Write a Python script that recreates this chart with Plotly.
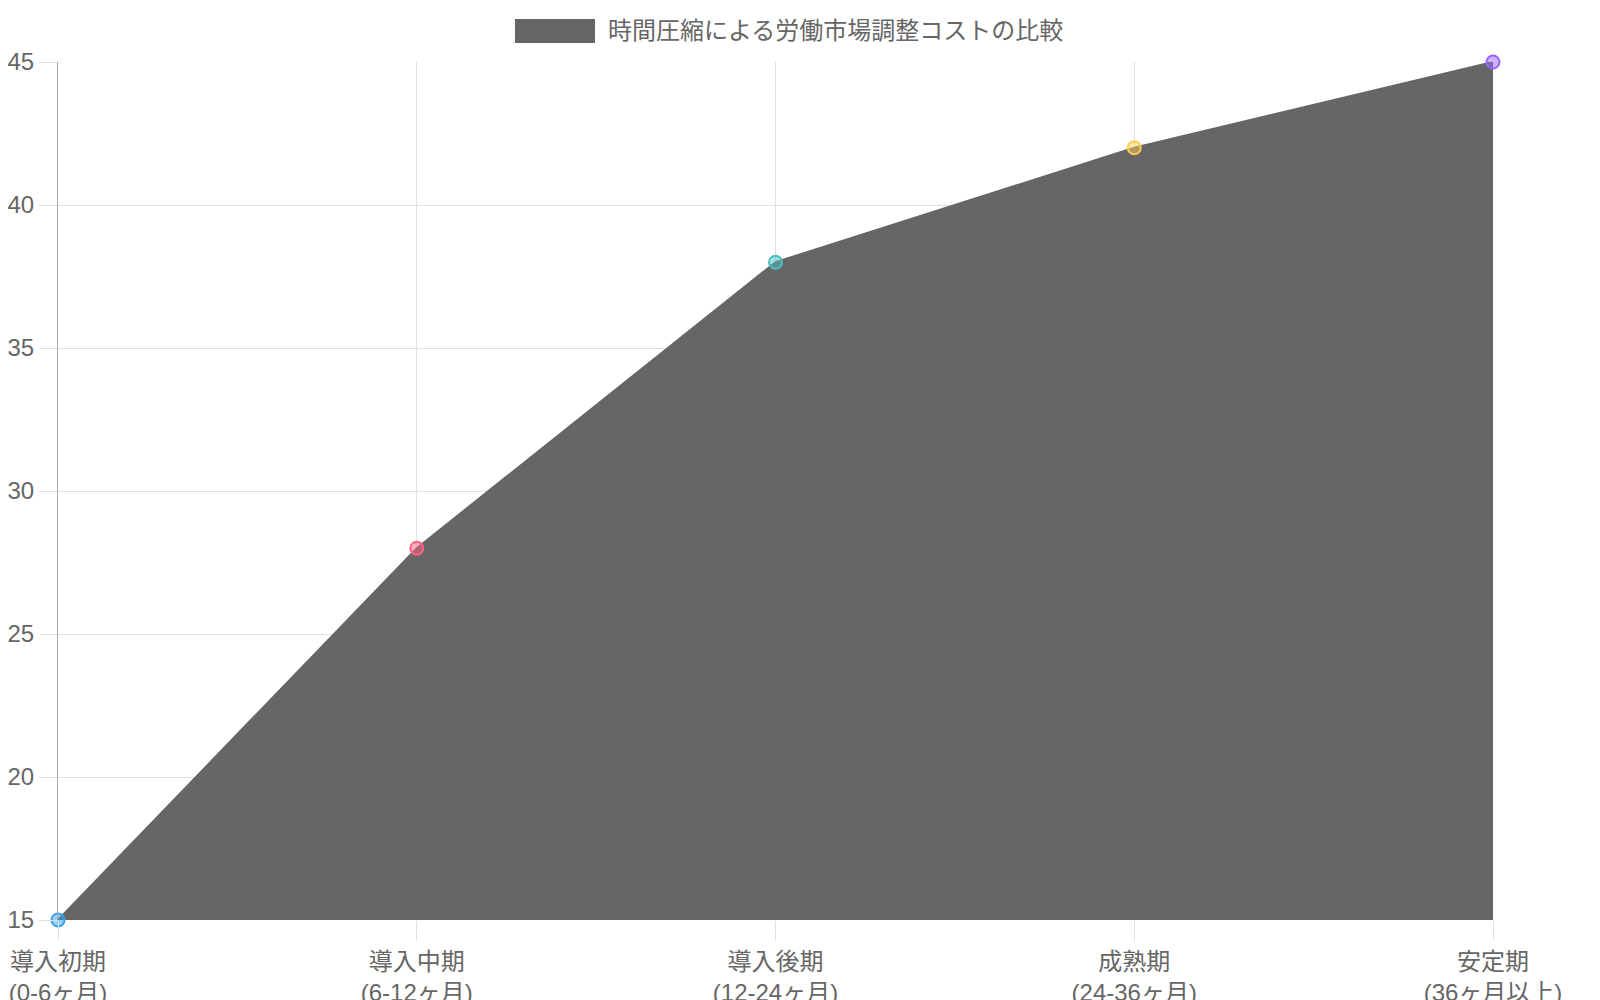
import plotly.graph_objects as go

# --- データ ---
stages = ["導入初期<br>(0-6ヶ月)", "導入中期<br>(6-12ヶ月)", "導入後期<br>(12-24ヶ月)",
          "成熟期<br>(24-36ヶ月)", "安定期<br>(36ヶ月以上)"]
cost_values = [15, 28, 38, 42, 45]
point_colors = ["#36a2eb", "#ff6384", "#4bc0c0", "#ffcd56", "#9966ff"]
point_fills = ["rgba(54,162,235,0.5)", "rgba(255,99,132,0.5)", "rgba(75,192,192,0.5)",
               "rgba(255,205,86,0.5)", "rgba(153,102,255,0.5)"]
series_name = "時間圧縮による労働市場調整コストの比較"

FONT = "Liberation Sans, Noto Sans CJK JP, sans-serif"
TEXT = "#666666"

# ページの余白(8px)を差し引いた図のサイズ
W, H = 1592, 992
L, R, T, B = 50, 107, 54, 80
PW, PH = W - L - R, H - T - B

fig = go.Figure()

fig.add_trace(go.Scatter(
    x=stages,
    y=cost_values,
    name=series_name,
    mode="lines+markers",
    fill="tozeroy",
    fillcolor="#666666",
    line=dict(color="#666666", width=2),
    marker=dict(size=13, color=point_fills, line=dict(color=point_colors, width=2)),
    hoverinfo="x+y",
    cliponaxis=False,
))

# 凡例（Chart.js風の横長ボックス）
fig.add_shape(type="rect", xref="paper", yref="paper",
              x0=(515 - 58) / PW, x1=(595 - 58) / PW,
              y0=1 + (62 - 43) / PH, y1=1 + (62 - 19) / PH,
              fillcolor="#666666", line=dict(width=0))
fig.add_annotation(text=series_name, xref="paper", yref="paper",
                   x=(606 - 58) / PW, y=1 + (62 - 31) / PH,
                   xanchor="left", yanchor="middle", showarrow=False,
                   font=dict(family=FONT, size=24, color=TEXT))

fig.update_layout(
    width=W,
    height=H,
    margin=dict(l=L, r=R, t=T, b=B),
    paper_bgcolor="white",
    plot_bgcolor="white",
    showlegend=False,
    font=dict(family=FONT, size=24, color=TEXT),
)

fig.update_xaxes(
    type="category",
    range=[0, 4],
    automargin=False,
    showgrid=True,
    gridcolor="#e0e0e0",
    gridwidth=1,
    ticks="outside",
    ticklen=20,
    tickcolor="#e0e0e0",
    showline=False,
    zeroline=False,
    tickfont=dict(family=FONT, size=24, color=TEXT),
)

fig.update_yaxes(
    range=[15, 45],
    dtick=5,
    automargin=False,
    showgrid=True,
    gridcolor="#e0e0e0",
    gridwidth=1,
    ticks="outside",
    ticklen=18,
    tickcolor="#e0e0e0",
    showline=True,
    linecolor="#aaaaaa",
    linewidth=1,
    zeroline=False,
    tickfont=dict(family=FONT, size=24, color=TEXT),
)

fig.write_html("out.html")
